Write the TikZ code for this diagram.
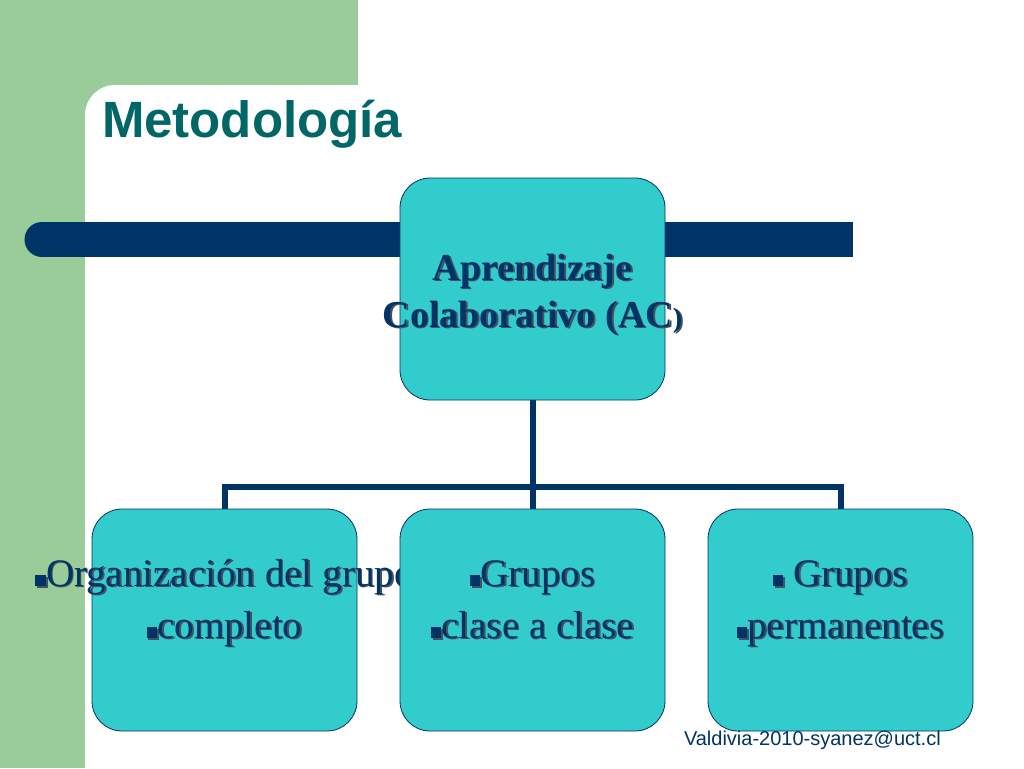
\documentclass[tikz,border=0pt]{standalone}
\usepackage{fontspec}
\setmainfont{Liberation Serif}
\newfontfamily\sansfont{Liberation Sans}
\usetikzlibrary{calc}
\definecolor{slidegreen}{RGB}{153,204,153}
\definecolor{titleteal}{RGB}{0,102,102}
\definecolor{barblue}{RGB}{0,51,102}
\definecolor{boxcyan}{RGB}{51,204,204}
\definecolor{shadowgray}{RGB}{70,80,95}
\newcommand{\shd}[1]{\makebox[0pt][l]{\hspace{1.8pt}\raisebox{-1.8pt}{\textcolor{shadowgray}{#1}}}#1}
\newcommand{\sqb}{\rule{0.27em}{0.27em}}

\begin{document}
\begin{tikzpicture}[x=1pt,y=-1pt,every node/.style={outer sep=0pt}]

\tikzstyle{box}=[draw=barblue,line width=0.8pt,fill=boxcyan,rounded corners=30pt,minimum width=265pt,minimum height=222pt]
\tikzstyle{conn}=[barblue,line width=6pt]
\tikzstyle{boxtext}=[text=barblue,align=center,font=\fontsize{39}{52}\selectfont,anchor=base,inner sep=0pt]

\useasboundingbox (0,0) rectangle (1024,768);
\clip (0,0) rectangle (1024,768);
% background
\fill[white] (0,0) rectangle (1024,768);
\fill[slidegreen] (0,0) rectangle (358,768);
\fill[white,rounded corners=30pt] (85,85) rectangle (1100,850);
\fill[barblue] (42,239.5) circle (17.5pt);
\fill[barblue] (42,222) rectangle (853,257);

\node (title) at (102,137)[anchor=base west,inner sep=0pt,text=titleteal,font=\sansfont\bfseries\fontsize{51}{51}\selectfont] {Metodología};

\node (ac) at (532.5,289)[box] {};

% connectors
\coordinate (hub) at ($(ac.south)+(0,87)$);
\draw[conn] (ac.south) -- (hub);
\draw[conn] (hub) -- (532.5,520);
\draw[conn] (224.5,520) |- (hub) -| (840.5,520);

\node (org) at (224.5,620)[box] {};
\node (orgtext) at ($(org.center)+(0,18)$)[boxtext] {\shd{\sqb Organización del grupo}\\\shd{\sqb completo}};
\node (cls) at (532.5,620)[box] {};
\node (clstext) at ($(cls.center)+(0,18)$)[boxtext] {\shd{\sqb Grupos}\\\shd{\sqb clase a clase}};
\node (perm) at (840.5,620)[box] {};
\node (permtext) at ($(perm.center)+(0,18)$)[boxtext] {\shd{\sqb\ Grupos}\\\shd{\sqb permanentes}};

\node (actext) at ($(ac.center)+(0,38)$)[boxtext,font=\bfseries\fontsize{38}{47}\selectfont] {\shd{Aprendizaje}\\\shd{Colaborativo (AC{\fontsize{28}{28}\selectfont)}}};

\node (footer) at (684,745)[anchor=base west,inner sep=0pt,text=barblue,font=\sansfont\fontsize{20}{20}\selectfont] {Valdivia-2010-syanez@uct.cl};
\end{tikzpicture}
\end{document}
